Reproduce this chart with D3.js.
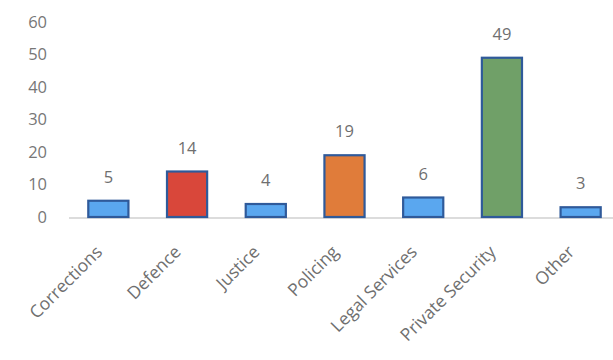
<!DOCTYPE html>
<html><head><meta charset="utf-8">
<script src="https://cdn.jsdelivr.net/npm/d3@7"></script>
<style>body{margin:0;background:#fff}svg{display:block}</style>
</head><body><svg id="c" width="613" height="360"></svg>
<script>
const categories = ["Corrections","Defence","Justice","Policing","Legal Services","Private Security","Other"];
const values = [5,14,4,19,6,49,3];
const colors = ["#5aa7ef","#d9473a","#5aa7ef","#e07c3a","#5aa7ef","#70a068","#5aa7ef"];
const yTicks = [0,10,20,30,40,50,60];

const svg = d3.select("#c");
const m = {l:69, r:-7, t:22, b:143};
const W = 613, H = 360;
const x = d3.scaleBand().domain(categories).range([m.l, W - m.r]).paddingInner(0.49).paddingOuter(0.245);
const y = d3.scaleLinear().domain([0,60]).range([H - m.b, m.t]);
const font = "'Open Sans', 'Liberation Sans', sans-serif";

// baseline
svg.append("line").attr("x1", m.l).attr("x2", W).attr("y1", y(0)+1).attr("y2", y(0)+1)
  .attr("stroke","#d0d0d0").attr("stroke-width",1.5);

// y axis labels
const ya = svg.append("g").attr("transform",`translate(${m.l-22},0)`)
  .call(d3.axisLeft(y).tickValues(yTicks).tickSize(0).tickPadding(0));
ya.select(".domain").remove();
ya.selectAll("text").attr("fill","#777").style("font-family",font).style("font-size","16.5px");

// bars
svg.selectAll("rect.bar").data(values).join("rect").attr("class","bar")
  .attr("x",(d,i)=>x(categories[i]))
  .attr("width",x.bandwidth())
  .attr("y",d=>y(d))
  .attr("height",d=>y(0)-y(d))
  .attr("fill",(d,i)=>colors[i])
  .attr("stroke","#2f5a9a").attr("stroke-width",2.2);

// value labels
svg.selectAll("text.val").data(values).join("text").attr("class","val")
  .attr("x",(d,i)=>x(categories[i])+x.bandwidth()/2)
  .attr("y",d=>y(d)-18)
  .attr("text-anchor","middle")
  .attr("fill","#6f6f6f").style("font-family",font).style("font-size","16.5px")
  .text(d=>d);

// x labels
const xa = svg.append("g").attr("transform",`translate(0,${y(0)})`)
  .call(d3.axisBottom(x).tickSize(0).tickPadding(0));
xa.select(".domain").remove();
xa.selectAll("text")
  .attr("text-anchor","end")
  .attr("dy",0).attr("y",0)
  .attr("transform","translate(-5,36) rotate(-45)")
  .attr("fill","#6f6f6f").style("font-family",font).style("font-size","17.5px");
</script></body></html>
